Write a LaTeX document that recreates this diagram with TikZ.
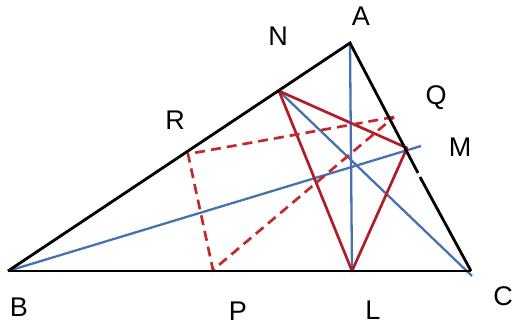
\documentclass[tikz,border=0pt]{standalone}
\usepackage{fontspec}
\setmainfont{Liberation Sans}
\begin{document}
\begin{tikzpicture}[x=1pt,y=-1pt,
  side/.style={black,line width=2.8pt},
  alt/.style={color={rgb,255:red,70;green,115;blue,175},line width=2.3pt},
  ped/.style={color={rgb,255:red,175;green,30;blue,40},line width=2.7pt},
  mid/.style={color={rgb,255:red,195;green,40;blue,45},line width=2.7pt,dash pattern=on 10pt off 6pt},
  lab/.style={font=\fontsize{27}{27}\selectfont}]
\useasboundingbox (0,0) rectangle (515,327);
\coordinate (A) at (350,43);
\coordinate (B) at (8,271);
\coordinate (C) at (471,271);
\coordinate (N) at (279,91);
\coordinate (M) at (407,148);
\coordinate (L) at (352,271);
\coordinate (R) at (188,154);
\coordinate (P) at (213,270);
\coordinate (Q) at (394,117);
\coordinate (Mb) at (421,146);
\coordinate (Ce) at (472,276);
\coordinate (G1) at (418,173);
\coordinate (G2) at (420,177);
% altitudes
\draw[alt] (A) -- (L);
\draw[alt] (B) -- (Mb);
\draw[alt] (Ce) -- (N);
% orthic triangle
\draw[ped,line join=round] (N) -- (M) -- (L) -- cycle;
% medial dashed
\draw[mid] (Q) -- (R) -- (P) -- (Q);
% sides
\draw[side] (B) -- (C);
\draw[side] (B) -- (A) -- (G1);
\draw[side] (G2) -- (C);
% labels
\node[lab] (lA) at (361,16) {A};
\node[lab] (lN) at (278,36) {N};
\node[lab] (lQ) at (436,98) {Q};
\node[lab] (lM) at (460,147) {M};
\node[lab] (lR) at (175,120) {R};
\node[lab] (lB) at (19,307) {B};
\node[lab] (lP) at (238,311) {P};
\node[lab] (lL) at (373,310) {L};
\node[lab,inner sep=0pt] (lC) at (503,296) {C};
\end{tikzpicture}
\end{document}
